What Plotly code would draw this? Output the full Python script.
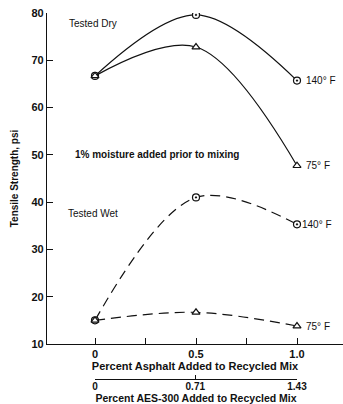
import plotly.graph_objects as go

# Data
asphalt_pct = [0, 0.5, 1.0]
dry_140 = [66.7, 79.6, 65.7]
dry_75 = [66.7, 72.8, 47.7]
wet_140 = [15.0, 41.0, 35.3]
wet_75 = [15.0, 16.7, 13.8]
aes_ticks = [0, 0.71, 1.43]
aes_labels = ["0", "0.71", "1.43"]
y_ticks = [10, 20, 30, 40, 50, 60, 70, 80]
x_minor = [0, 0.25, 0.5, 0.75, 1.0]
x_labels = ["0", "0.5", "1.0", "", ""]

FONT = "Liberation Sans, Arial, sans-serif"
BLACK = "#111111"

fig = go.Figure()

def add_series(y, symbol, dash):
    fig.add_trace(go.Scatter(
        x=asphalt_pct, y=y, mode="lines+markers",
        line=dict(color=BLACK, width=1.2, shape="spline", smoothing=1.0, dash=dash),
        marker=dict(symbol=symbol, size=7, color="white",
                    line=dict(color=BLACK, width=1.2)),
        showlegend=False, hoverinfo="skip"))

add_series(dry_140, "circle-dot", "solid")
add_series(dry_75, "triangle-up", "solid")
add_series(wet_140, "circle-dot", "10px,6px")
add_series(wet_75, "triangle-up", "10px,6px")

# secondary AES-300 scale (invisible trace to create the subplot)
fig.add_trace(go.Scatter(x=aes_ticks, y=[0, 0, 0], mode="markers",
                         marker=dict(opacity=0), xaxis="x2", yaxis="y2",
                         showlegend=False, hoverinfo="skip"))

W, H = 343, 404
ml, mt = 47, 13
ph = H - mt
def py(px):
    return (H - px) / ph

fig.update_layout(
    width=W, height=H,
    margin=dict(l=ml, r=0, t=mt, b=0),
    paper_bgcolor="white", plot_bgcolor="white",
    font=dict(family=FONT, color=BLACK),
    xaxis=dict(
        range=[-48 / 202, 1 + 46 / 202],
        domain=[0, 1], anchor="y",
        tickmode="array",
        tickvals=[0, 0.5, 1.0, 0.25, 0.75],
        ticktext=x_labels,
        ticks="inside", ticklen=6, tickwidth=1.2, tickcolor=BLACK,
        showline=True, linecolor=BLACK, linewidth=1.2,
        showgrid=False, zeroline=False,
        tickfont=dict(size=11, family=FONT, weight="bold"),
        title=dict(text="Percent Asphalt Added to Recycled Mix",
                   font=dict(size=11, family=FONT, weight="bold"), standoff=2),
        automargin=False,
    ),
    yaxis=dict(
        range=[10, 80],
        domain=[py(344), 1], anchor="x",
        tickmode="array", tickvals=y_ticks,
        ticks="inside", ticklen=6, tickwidth=1.2, tickcolor=BLACK,
        showline=True, linecolor=BLACK, linewidth=1.2,
        showgrid=False, zeroline=False,
        tickfont=dict(size=11, family=FONT, weight="bold"),
        title=dict(text="Tensile Strength, psi",
                   font=dict(size=10, family=FONT, weight="bold"), standoff=10),
        automargin=False,
    ),
    xaxis2=dict(
        range=[0, 1.43],
        domain=[(95 - ml) / 296, (297 - ml) / 296], anchor="y2",
        tickmode="array", tickvals=aes_ticks, ticktext=aes_labels,
        ticks="inside", ticklen=4, tickwidth=1.2, tickcolor=BLACK,
        showline=True, linecolor=BLACK, linewidth=1.2,
        showgrid=False, zeroline=False,
        tickfont=dict(size=10, family=FONT, weight="bold"),
        ticklabelstandoff=-2,
        title=dict(text="Percent AES-300 Added to Recycled Mix",
                   font=dict(size=10.5, family=FONT, weight="bold"), standoff=0),
        automargin=False,
    ),
    yaxis2=dict(domain=[py(379), py(375)], anchor="x2", visible=False, range=[0, 1]),
)

ann_font = dict(size=10, family=FONT, color=BLACK)
lab_font = dict(size=10, family=FONT, color=BLACK)
annotations = [
    dict(x=-0.139, y=77.7, text="Tested Dry", xanchor="left", yanchor="middle", font=ann_font),
    dict(x=-0.109, y=50.0, text="1% moisture added prior to mixing", xanchor="left",
         yanchor="middle", font=dict(size=10, family=FONT, color=BLACK, weight="bold")),
    dict(x=-0.144, y=37.7, text="Tested Wet", xanchor="left", yanchor="middle", font=ann_font),
    dict(x=1.0, y=dry_140[2], text="140° F", xanchor="left", xshift=7, yanchor="middle", font=lab_font),
    dict(x=1.0, y=dry_75[2], text="75° F", xanchor="left", xshift=7, yanchor="middle", font=lab_font),
    dict(x=1.0, y=wet_140[2], text="140° F", xanchor="left", xshift=3, yanchor="middle", font=lab_font),
    dict(x=1.0, y=wet_75[2], text="75° F", xanchor="left", xshift=7, yanchor="middle", font=lab_font),
]
for a in annotations:
    a.update(xref="x", yref="y", showarrow=False)
fig.update_layout(annotations=annotations)

fig.write_html("out.html")
